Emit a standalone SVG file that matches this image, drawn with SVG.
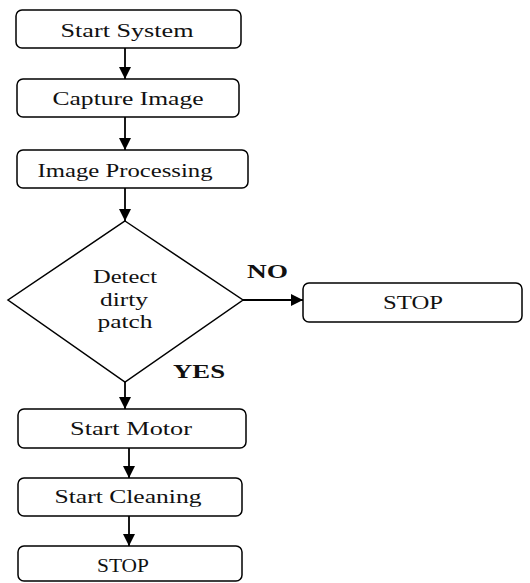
<svg xmlns="http://www.w3.org/2000/svg" width="530" height="583" viewBox="0 0 530 583">
<style>
.box{fill:#fff;stroke:#000;stroke-width:1.5}
.t{font-family:"Liberation Serif","Times New Roman",serif;font-size:18px;fill:#111;text-anchor:middle}
.b{font-family:"Liberation Serif","Times New Roman",serif;font-size:19px;font-weight:bold;fill:#111}
.c{stroke:#000;stroke-width:1.8;fill:none}
</style>
<defs>
<marker id="ah" viewBox="0 0 10 10" refX="10" refY="5" markerWidth="13" markerHeight="12" markerUnits="userSpaceOnUse" orient="auto">
<path d="M0,0 L10,5 L0,10 Z" fill="#000"/>
</marker>
</defs>
<rect width="530" height="583" fill="#fff"/>
<g id="connectors">
<line class="c" x1="125" y1="48" x2="125" y2="79" marker-end="url(#ah)"/>
<line class="c" x1="125" y1="117" x2="125" y2="150" marker-end="url(#ah)"/>
<line class="c" x1="125" y1="188" x2="125" y2="221" marker-end="url(#ah)"/>
<line class="c" x1="243" y1="300" x2="303" y2="300" marker-end="url(#ah)"/>
<line class="c" x1="125" y1="382" x2="125" y2="409" marker-end="url(#ah)"/>
<line class="c" x1="129" y1="448" x2="129" y2="478" marker-end="url(#ah)"/>
<line class="c" x1="129" y1="516" x2="129" y2="546" marker-end="url(#ah)"/>
<text class="b" x="247" y="278" textLength="41" lengthAdjust="spacingAndGlyphs">NO</text>
<text class="b" x="173" y="378" textLength="52" lengthAdjust="spacingAndGlyphs">YES</text>
</g>
<g id="start">
<rect class="box" x="16" y="10" width="225" height="38" rx="6"/>
<text class="t" x="127" y="37" textLength="133" lengthAdjust="spacingAndGlyphs">Start System</text>
</g>
<g id="capture">
<rect class="box" x="17" y="79" width="222" height="38" rx="6"/>
<text class="t" x="128" y="105" textLength="151" lengthAdjust="spacingAndGlyphs">Capture Image</text>
</g>
<g id="processing">
<rect class="box" x="17" y="150" width="231" height="38" rx="6"/>
<text class="t" x="125" y="177" textLength="175" lengthAdjust="spacingAndGlyphs">Image Processing</text>
</g>
<g id="detect">
<polygon class="box" points="125,221 243,300 125,382 8,300"/>
<text class="t" x="125" y="283" textLength="64" lengthAdjust="spacingAndGlyphs">Detect</text>
<text class="t" x="124" y="306" textLength="48" lengthAdjust="spacingAndGlyphs">dirty</text>
<text class="t" x="125" y="328" textLength="55" lengthAdjust="spacingAndGlyphs">patch</text>
</g>
<g id="stop-right">
<rect class="box" x="303" y="283" width="219" height="39" rx="6"/>
<text class="t" x="413" y="309" textLength="60" lengthAdjust="spacingAndGlyphs">STOP</text>
</g>
<g id="motor">
<rect class="box" x="18" y="409" width="228" height="39" rx="6"/>
<text class="t" x="131" y="435" textLength="122" lengthAdjust="spacingAndGlyphs">Start Motor</text>
</g>
<g id="cleaning">
<rect class="box" x="18" y="478" width="224" height="38" rx="6"/>
<text class="t" x="128" y="503" textLength="147" lengthAdjust="spacingAndGlyphs">Start Cleaning</text>
</g>
<g id="stop-bottom">
<rect class="box" x="18" y="546" width="224" height="35" rx="6"/>
<text class="t" x="123" y="572" textLength="52" lengthAdjust="spacingAndGlyphs">STOP</text>
</g>
</svg>
